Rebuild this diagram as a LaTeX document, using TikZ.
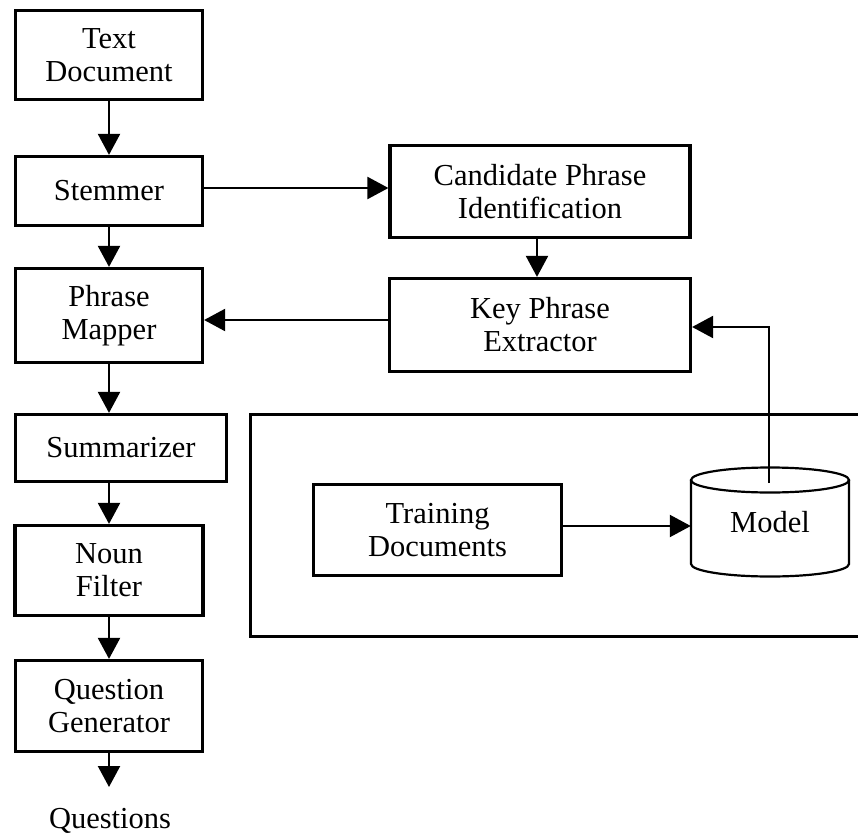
\documentclass[tikz,border=0pt]{standalone}
\usepackage{fontspec}
\setmainfont{Liberation Serif}
\usetikzlibrary{arrows.meta}
\begin{document}
\begin{tikzpicture}[x=1pt,y=-1pt,
  box/.style={draw, line width=3.2pt, align=center, inner sep=0pt,
    font=\fontsize{30.5}{33}\selectfont},
  lbl/.style={inner sep=0pt, font=\fontsize{30.5}{33}\selectfont},
  arr/.style={line width=2.2pt, -{Triangle[length=21pt,width=22pt]}},
  thinline/.style={line width=2.2pt}]
\useasboundingbox (0,0) rectangle (858,837);

% main pipeline
\node[box, minimum width=187, minimum height=89] (doc) at (109,55) {Text\\Document};
\node[box, minimum width=187, minimum height=69] (st) at (109,191) {Stemmer};
\node[box, minimum width=187, minimum height=94] (pm) at (109,315.5) {Phrase\\Mapper};
\node[box, minimum width=211, minimum height=67] (su) at (121,448) {Summarizer};
\node[box, minimum width=188, minimum height=90] (nf) at (109,570.5) {Noun\\Filter};
\node[box, minimum width=187, minimum height=91] (qg) at (109,706) {Question\\Generator};
\node[lbl, anchor=base] (q) at (110,828) {Questions};
\coordinate (qend) at (109,787);

% key phrase extraction
\node[box, minimum width=300, minimum height=92] (cp) at (540,191.5) {Candidate Phrase\\Identification};
\node[box, minimum width=301, minimum height=93] (kp) at (540,325) {Key Phrase\\Extractor};

% training frame (open on the right)
\draw[line width=3pt] (858,414.5) -- (250.5,414.5) -- (250.5,636.5) -- (858,636.5);
\node[box, minimum width=248, minimum height=91] (tr) at (437.5,530) {Training\\Documents};

% model store
\draw[thinline] (770,480) ellipse [x radius=79pt, y radius=12.5pt];
\draw[thinline] (691,480) -- (691,564)
  arc[start angle=180, end angle=360, x radius=79pt, y radius=12.5pt] -- (849,480);
\node[lbl, minimum width=158, minimum height=110] (mdl) at (770,522) {Model};
\coordinate (mtop) at (769,483);

% connectors
\draw[arr] (doc) -- (st);
\draw[arr] (st) -- (pm);
\draw[arr] (pm.south) -- (pm.south |- su.north);
\draw[arr] (nf.north |- su.south) -- (nf.north);
\draw[arr] (nf) -- (qg);
\draw[arr] (qg.south) -- (qg.south |- qend);
\draw[arr] ([yshift=3pt]st.east) -- ([yshift=3pt]st.east -| cp.west);
\draw[arr] ([xshift=-3pt]cp.south) -- ([xshift=-3pt]kp.north);
\draw[arr] ([yshift=5pt]kp.west) -- ([yshift=5pt]kp.west -| pm.east);
\draw[arr] ([yshift=4pt]tr.east) -- ([yshift=4pt]tr.east -| mdl.west);
\draw[arr] (mtop) |- ([yshift=-2pt]kp.east);
\end{tikzpicture}
\end{document}
